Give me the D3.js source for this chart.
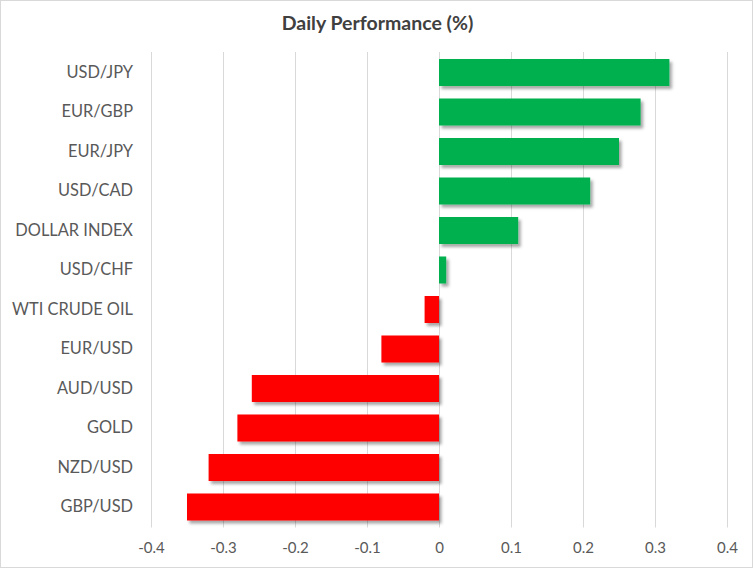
<!DOCTYPE html>
<html>
<head>
<meta charset="utf-8">
<script src="https://cdn.jsdelivr.net/npm/d3@7"></script>
<style>
  body { margin: 0; background: #fff; }
  svg { display: block; font-family: Lato, "Open Sans", sans-serif; }
</style>
</head>
<body>
<div id="chart"></div>
<script>
// === Data ===
const categories = ["USD/JPY", "EUR/GBP", "EUR/JPY", "USD/CAD", "DOLLAR INDEX", "USD/CHF",
  "WTI CRUDE OIL", "EUR/USD", "AUD/USD", "GOLD", "NZD/USD", "GBP/USD"];
const values = [0.32, 0.28, 0.25, 0.21, 0.11, 0.01, -0.02, -0.08, -0.26, -0.28, -0.32, -0.35];
const tickValues = [-0.4, -0.3, -0.2, -0.1, 0, 0.1, 0.2, 0.3, 0.4];
const tickLabels = ["-0.4", "-0.3", "-0.2", "-0.1", "0", "0.1", "0.2", "0.3", "0.4"];

const width = 753;
const height = 568;
const margin = { top: 52, right: 26, bottom: 40.5, left: 151 };

const svg = d3.select("#chart")
  .append("svg")
  .attr("width", width)
  .attr("height", height);

// drop shadow like the spreadsheet bars
const filter = svg.append("defs").append("filter")
  .attr("id", "shadow")
  .attr("x", "-20%").attr("y", "-30%")
  .attr("width", "140%").attr("height", "170%");
filter.append("feDropShadow")
  .attr("dx", 2.5).attr("dy", 3)
  .attr("stdDeviation", 1.6)
  .attr("flood-color", "#000")
  .attr("flood-opacity", 0.35);

// outer border
svg.append("rect")
  .attr("x", 0.5).attr("y", 0.5)
  .attr("width", width - 1).attr("height", height - 1)
  .attr("fill", "#fff")
  .attr("stroke", "#d9d9d9");

const x = d3.scaleLinear()
  .domain([-0.4, 0.4])
  .range([margin.left, width - margin.right]);

const y = d3.scaleBand()
  .domain(categories)
  .range([margin.top, height - margin.bottom])
  .paddingInner(0.316)
  .paddingOuter(0.177);

// gridlines
svg.append("g")
  .selectAll("line")
  .data(tickValues)
  .join("line")
  .attr("x1", d => Math.round(x(d)) + 0.5)
  .attr("x2", d => Math.round(x(d)) + 0.5)
  .attr("y1", margin.top)
  .attr("y2", height - margin.bottom)
  .attr("stroke", "#d9d9d9")
  .attr("stroke-width", 1);

// bars
svg.append("g")
  .attr("filter", "url(#shadow)")
  .selectAll("rect")
  .data(categories)
  .join("rect")
  .attr("x", (d, i) => x(Math.min(0, values[i])))
  .attr("y", d => y(d))
  .attr("width", (d, i) => Math.abs(x(values[i]) - x(0)))
  .attr("height", y.bandwidth())
  .attr("fill", (d, i) => values[i] >= 0 ? "#00b050" : "#ff0000");

// X Axis
const xAxis = svg.append("g")
  .attr("transform", `translate(0,${height - margin.bottom})`)
  .call(d3.axisBottom(x).tickValues(tickValues)
    .tickFormat((d, i) => tickLabels[i]).tickSize(0).tickPadding(15));
xAxis.select(".domain").remove();
xAxis.selectAll("text")
  .attr("fill", "#595959")
  .style("font-size", "15px")
  .style("font-family", "Lato, 'Open Sans', sans-serif");

// Y Axis
const yAxis = svg.append("g")
  .attr("transform", `translate(${margin.left},0)`)
  .call(d3.axisLeft(y).tickSize(0).tickPadding(18));
yAxis.select(".domain").remove();
yAxis.selectAll("text")
  .attr("fill", "#595959")
  .style("font-size", "16.4px")
  .style("font-family", "Lato, 'Open Sans', sans-serif");

// title
svg.append("text")
  .attr("x", width / 2 + 1)
  .attr("y", 30)
  .attr("text-anchor", "middle")
  .attr("fill", "#404040")
  .style("font-size", "19.5px")
  .style("font-weight", "bold")
  .text("Daily Performance (%)");
</script>
</body>
</html>
